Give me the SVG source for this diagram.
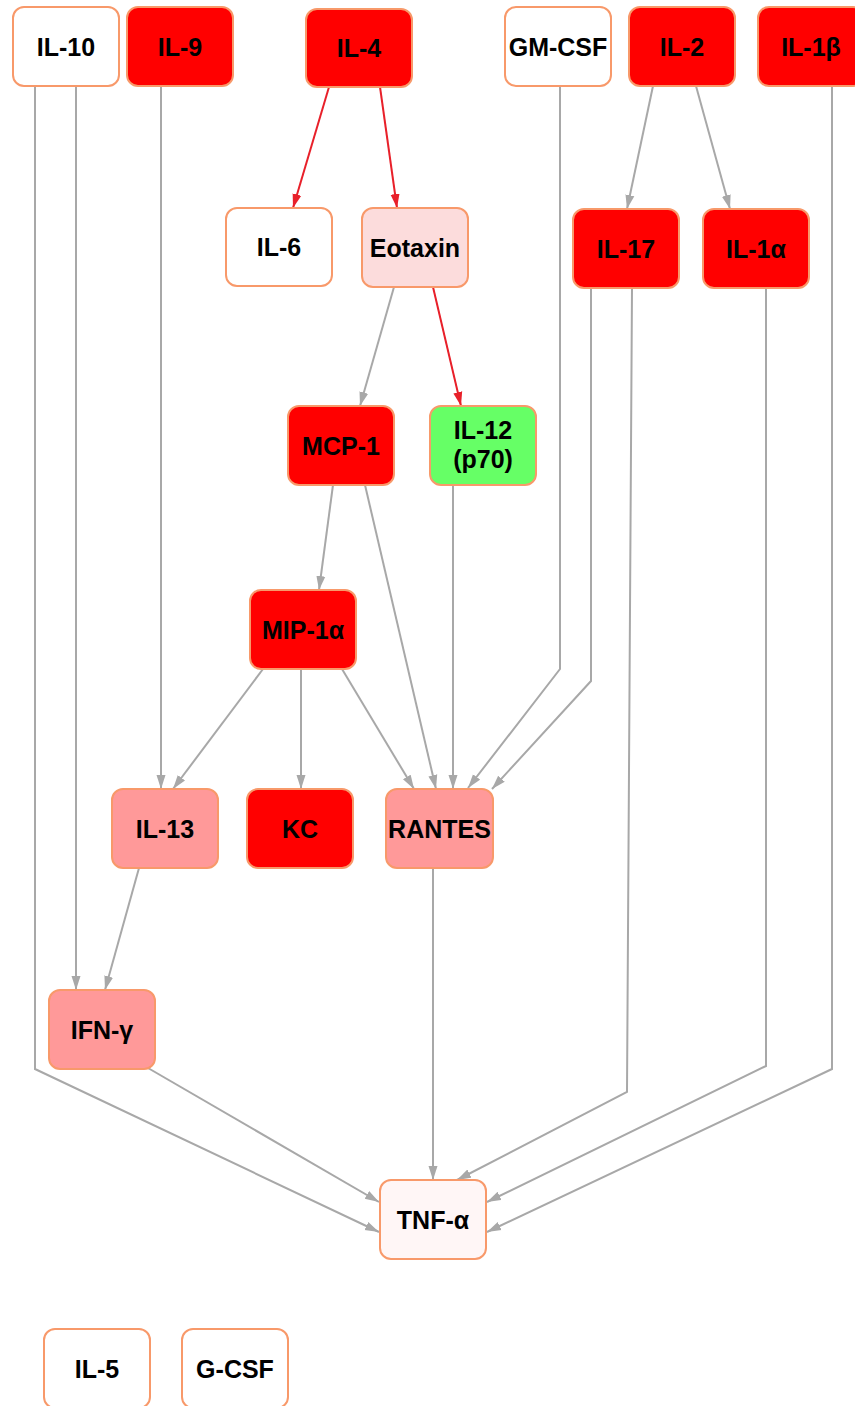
<svg xmlns="http://www.w3.org/2000/svg" width="855" height="1406" viewBox="0 0 855 1406">
  <defs>
    <marker id="ah-gray" markerUnits="userSpaceOnUse" markerWidth="15" markerHeight="11" refX="14" refY="5" orient="auto">
      <path d="M0,0.5 L14,5 L0,9.5 z" fill="#A8A8A8"/>
    </marker>
    <marker id="ah-red" markerUnits="userSpaceOnUse" markerWidth="15" markerHeight="11" refX="14" refY="5" orient="auto">
      <path d="M0,0.5 L14,5 L0,9.5 z" fill="#E8202A"/>
    </marker>
    <style>
      .node rect { stroke: #F8996A; stroke-width: 2; }
      .node text { font-family: "Liberation Sans", Arial, sans-serif; font-weight: bold; font-size: 25px; fill: #000; text-anchor: middle; }
      .white { fill: #FFFFFF; }
      .red { fill: #FF0000; }
      .pink { fill: #FF9999; }
      .pale { fill: #FCDCDC; }
      .faint { fill: #FFF6F6; }
      .green { fill: #66FF66; }
      .edge { fill: none; stroke-width: 2; }
      .gray { stroke: #A8A8A8; marker-end: url(#ah-gray); }
      .hot { stroke: #E8202A; marker-end: url(#ah-red); }
    </style>
  </defs>

  <g id="connectors">
    <path class="edge gray" d="M76,86 V990"/>
    <path class="edge gray" d="M35,86 V1069 L379,1232"/>
    <path class="edge gray" d="M161,86 V789"/>
    <path class="edge gray" d="M560,86 V669 L468,788"/>
    <path class="edge gray" d="M653,86 L627,209"/>
    <path class="edge gray" d="M696,86 L730,209"/>
    <path class="edge gray" d="M832,86 V1069 L487,1232"/>
    <path class="edge gray" d="M394,287 L360,406"/>
    <path class="edge gray" d="M591,288 V681 L492,789"/>
    <path class="edge gray" d="M632,288 L627,1092 L457,1180"/>
    <path class="edge gray" d="M766,288 V1066 L487,1202"/>
    <path class="edge gray" d="M333,485 L319,590"/>
    <path class="edge gray" d="M365,485 L436,789"/>
    <path class="edge gray" d="M453,485 V789"/>
    <path class="edge gray" d="M263,669 L173,789"/>
    <path class="edge gray" d="M301,669 V789"/>
    <path class="edge gray" d="M342,669 L414,789"/>
    <path class="edge gray" d="M433,868 V1180"/>
    <path class="edge gray" d="M139,868 L105,990"/>
    <path class="edge gray" d="M148,1068 L379,1202"/>
    <path class="edge hot" d="M329,87 L293,208"/>
    <path class="edge hot" d="M380,87 L397,208"/>
    <path class="edge hot" d="M433,287 L461,406"/>
  </g>

  <g id="IL-10" class="node"><rect class="white" x="13" y="7" width="106" height="79" rx="11"/><text x="66" y="56">IL-10</text></g>
  <g id="IL-9" class="node"><rect class="red" x="127" y="7" width="106" height="79" rx="11"/><text x="180" y="56">IL-9</text></g>
  <g id="IL-4" class="node"><rect class="red" x="306" y="9" width="106" height="78" rx="11"/><text x="359" y="57">IL-4</text></g>
  <g id="GM-CSF" class="node"><rect class="white" x="505" y="7" width="106" height="79" rx="11"/><text x="558" y="56">GM-CSF</text></g>
  <g id="IL-2" class="node"><rect class="red" x="629" y="7" width="106" height="79" rx="11"/><text x="682" y="56">IL-2</text></g>
  <g id="IL-1b" class="node"><rect class="red" x="758" y="7" width="106" height="79" rx="11"/><text x="811" y="56">IL-1β</text></g>

  <g id="IL-6" class="node"><rect class="white" x="226" y="208" width="106" height="78" rx="11"/><text x="279" y="256">IL-6</text></g>
  <g id="Eotaxin" class="node"><rect class="pale" x="362" y="208" width="106" height="79" rx="11"/><text x="415" y="257">Eotaxin</text></g>
  <g id="IL-17" class="node"><rect class="red" x="573" y="209" width="106" height="79" rx="11"/><text x="626" y="258">IL-17</text></g>
  <g id="IL-1a" class="node"><rect class="red" x="703" y="209" width="106" height="79" rx="11"/><text x="756" y="258">IL-1α</text></g>

  <g id="MCP-1" class="node"><rect class="red" x="288" y="406" width="106" height="79" rx="11"/><text x="341" y="455">MCP-1</text></g>
  <g id="IL-12" class="node"><rect class="green" x="430" y="406" width="106" height="79" rx="11"/><text x="483" y="439">IL-12</text><text x="483" y="468">(p70)</text></g>

  <g id="MIP-1a" class="node"><rect class="red" x="250" y="590" width="106" height="79" rx="11"/><text x="303" y="639">MIP-1α</text></g>

  <g id="IL-13" class="node"><rect class="pink" x="112" y="789" width="106" height="79" rx="11"/><text x="165" y="838">IL-13</text></g>
  <g id="KC" class="node"><rect class="red" x="247" y="789" width="106" height="79" rx="11"/><text x="300" y="838">KC</text></g>
  <g id="RANTES" class="node"><rect class="pink" x="386" y="789" width="107" height="79" rx="11"/><text x="439.5" y="838">RANTES</text></g>

  <g id="IFN-g" class="node"><rect class="pink" x="49" y="990" width="106" height="79" rx="11"/><text x="102" y="1039">IFN-γ</text></g>

  <g id="TNF-a" class="node"><rect class="faint" x="380" y="1180" width="106" height="79" rx="11"/><text x="433" y="1229">TNF-α</text></g>

  <g id="IL-5" class="node"><rect class="white" x="44" y="1329" width="106" height="79" rx="11"/><text x="97" y="1378">IL-5</text></g>
  <g id="G-CSF" class="node"><rect class="white" x="182" y="1329" width="106" height="79" rx="11"/><text x="235" y="1378">G-CSF</text></g>
</svg>
